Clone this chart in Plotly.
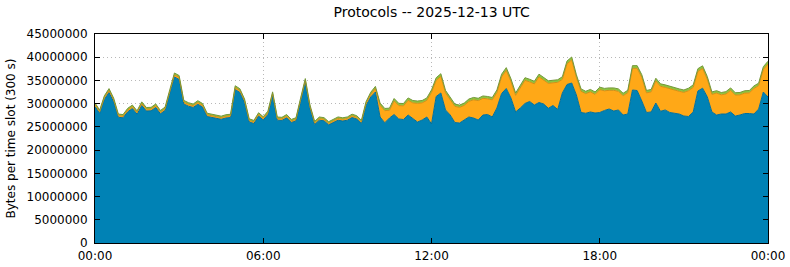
import pandas as pd
import plotly.graph_objects as go

# 10-minute time slots for 2025-12-13 (UTC)
slot_start = "2025-12-13 00:00"
slot_minutes = 10

# values in millions of bytes per slot
blue = [
    29.39, 27.89, 30.90, 32.41, 30.41, 27.07, 26.96, 28.25, 28.96, 27.74,
    29.61, 28.42, 28.47, 29.18, 27.82, 28.53, 32.19, 35.75, 35.21, 29.93,
    29.46, 29.18, 29.87, 29.29, 27.24, 27.07, 26.96, 26.64, 26.92, 27.02,
    33.05, 32.41, 30.25, 26.06, 25.73, 27.35, 26.49, 27.67, 31.76, 26.44,
    26.38, 26.96, 25.95, 26.27, 30.47, 34.56, 28.96, 25.52, 26.44, 26.31,
    25.45, 25.88, 26.44, 26.27, 26.44, 27.02, 26.70, 25.73, 29.61, 31.44,
    32.52, 27.13, 25.90, 26.91, 27.67, 26.70, 26.59, 27.56, 26.85, 26.05,
    26.48, 27.13, 25.62, 31.54, 32.30, 28.64, 27.56, 25.94, 25.84, 26.48,
    27.13, 26.91, 26.48, 27.56, 27.67, 27.13, 29.07, 32.19, 33.27, 31.22,
    28.21, 29.07, 30.04, 30.47, 29.71, 30.25, 29.93, 29.00, 29.61, 28.74,
    32.30, 34.13, 34.45, 31.87, 28.10, 27.93, 28.21, 27.99, 28.10, 28.53,
    28.85, 28.42, 28.64, 27.56, 27.77, 32.94, 32.83, 30.57, 28.10, 28.21,
    30.14, 28.36, 28.64, 28.10, 27.93, 27.77, 27.34, 27.24, 28.21, 32.73,
    33.33, 31.50, 28.21, 27.56, 27.77, 27.77, 28.21, 27.34, 27.56, 27.88,
    27.88, 27.77, 28.85, 32.51, 31.43,
]

orange = [
    0.40, 0.38, 0.42, 0.45, 0.41, 0.37, 0.36, 0.40, 0.39, 0.38,
    0.42, 0.40, 0.39, 0.41, 0.37, 0.39, 0.43, 0.47, 0.46, 0.41,
    0.40, 0.39, 0.41, 0.40, 0.37, 0.36, 0.36, 0.35, 0.37, 0.37,
    0.44, 0.43, 0.40, 0.35, 0.34, 0.37, 0.36, 0.38, 0.42, 0.36,
    0.35, 0.37, 0.34, 0.36, 0.41, 0.46, 0.40, 0.34, 0.36, 0.35,
    0.34, 0.36, 0.37, 0.36, 0.37, 0.38, 0.37, 0.36, 0.45, 0.60,
    0.75, 2.51, 2.60, 1.66, 2.94, 2.88, 2.95, 3.16, 3.33, 4.02,
    3.70, 3.59, 6.82, 3.49, 3.59, 3.69, 3.44, 3.49, 3.37, 3.16,
    3.37, 3.92, 4.18, 3.59, 3.37, 3.70, 3.37, 3.59, 3.91, 3.59,
    3.59, 4.45, 4.99, 4.23, 4.56, 5.53, 5.20, 5.38, 4.88, 5.86,
    2.94, 4.45, 4.99, 3.80, 4.56, 4.23, 4.34, 4.02, 4.92, 4.24,
    4.02, 4.45, 4.02, 4.17, 4.61, 4.67, 4.78, 5.10, 4.23, 4.34,
    4.78, 5.37, 4.88, 5.10, 5.01, 4.89, 5.10, 5.57, 5.31, 4.23,
    4.24, 3.81, 3.80, 4.73, 4.13, 4.31, 4.66, 4.52, 4.34, 4.39,
    4.45, 5.53, 5.04, 4.88, 7.11,
]

green = [
    0.36, 0.34, 0.37, 0.38, 0.36, 0.33, 0.33, 0.35, 0.35, 0.34,
    0.36, 0.35, 0.35, 0.35, 0.34, 0.35, 0.37, 0.39, 0.38, 0.36,
    0.35, 0.35, 0.36, 0.35, 0.33, 0.33, 0.33, 0.32, 0.33, 0.33,
    0.37, 0.37, 0.35, 0.32, 0.32, 0.33, 0.33, 0.34, 0.36, 0.33,
    0.33, 0.33, 0.32, 0.33, 0.35, 0.38, 0.35, 0.32, 0.33, 0.33,
    0.32, 0.33, 0.33, 0.33, 0.33, 0.34, 0.34, 0.33, 0.38, 0.42,
    0.45, 0.48, 0.47, 0.46, 0.50, 0.49, 0.49, 0.51, 0.50, 0.50,
    0.50, 0.51, 0.52, 0.55, 0.56, 0.52, 0.50, 0.48, 0.48, 0.49,
    0.50, 0.51, 0.50, 0.51, 0.51, 0.50, 0.52, 0.56, 0.58, 0.55,
    0.50, 0.54, 0.56, 0.55, 0.55, 0.57, 0.56, 0.55, 0.55, 0.55,
    0.56, 0.60, 0.61, 0.56, 0.52, 0.51, 0.52, 0.51, 0.53, 0.52,
    0.52, 0.52, 0.52, 0.51, 0.51, 0.58, 0.58, 0.56, 0.51, 0.52,
    0.55, 0.54, 0.53, 0.53, 0.52, 0.52, 0.51, 0.52, 0.53, 0.57,
    0.58, 0.55, 0.51, 0.51, 0.50, 0.51, 0.52, 0.50, 0.51, 0.51,
    0.51, 0.52, 0.53, 0.57, 0.60,
]

y_ticks = [0, 5000000, 10000000, 15000000, 20000000, 25000000,
           30000000, 35000000, 40000000, 45000000]
x_tick_labels = ["00:00", "06:00", "12:00", "18:00", "00:00"]

n = len(blue)
assert len(orange) == n and len(green) == n
times = pd.date_range(slot_start, periods=n, freq=f"{slot_minutes}min")
x_tick_vals = pd.date_range(slot_start, periods=5, freq="6h")

M = 1e6
fig = go.Figure()
series = [
    ("other", blue, "#0082b5", "#006f9c"),
    ("second", orange, "#ffa817", "#d28f16"),
    ("third", green, "#8cc63f", "#76973a"),
]
for name, vals, fillc, linec in series:
    fig.add_trace(go.Scatter(
        x=times, y=[v * M for v in vals], name=name,
        mode="lines", stackgroup="one",
        line=dict(color=linec, width=1, shape="linear"),
        fillcolor=fillc, hoverinfo="skip",
    ))

font = "DejaVu Sans"
fig.update_layout(
    width=790, height=267,
    margin=dict(l=95, r=22, t=34, b=24, autoexpand=False),
    paper_bgcolor="white", plot_bgcolor="white",
    showlegend=False,
    font=dict(family=font, size=12, color="black"),
    title=dict(text="Protocols -- 2025-12-13 UTC", x=0.5465, xanchor="center",
               y=0.955, yanchor="middle", font=dict(family=font, size=14, color="black")),
)
fig.update_xaxes(
    range=[times[0], times[-1]],
    tickvals=list(x_tick_vals), ticktext=x_tick_labels,
    ticks="inside", ticklen=5, tickcolor="black",
    showline=True, linecolor="black", linewidth=1, mirror="allticks",
    showgrid=True, gridcolor="#b8b8b8", griddash="1px,3px", gridwidth=1,
    tickfont=dict(family=font, size=12), zeroline=False, automargin=False,
    ticklabelstandoff=2,
)
fig.update_yaxes(
    range=[0, 45000000],
    tickvals=y_ticks, ticktext=[str(v) for v in y_ticks],
    ticks="inside", ticklen=5, tickcolor="black",
    showline=True, linecolor="black", linewidth=1, mirror="allticks",
    showgrid=True, gridcolor="#b8b8b8", griddash="1px,3px", gridwidth=1,
    tickfont=dict(family=font, size=12), zeroline=False, automargin=False,
    title=dict(text="Bytes per time slot (300 s)", font=dict(family=font, size=12), standoff=8),
    ticklabelstandoff=4,
)
fig.write_html("out.html")
